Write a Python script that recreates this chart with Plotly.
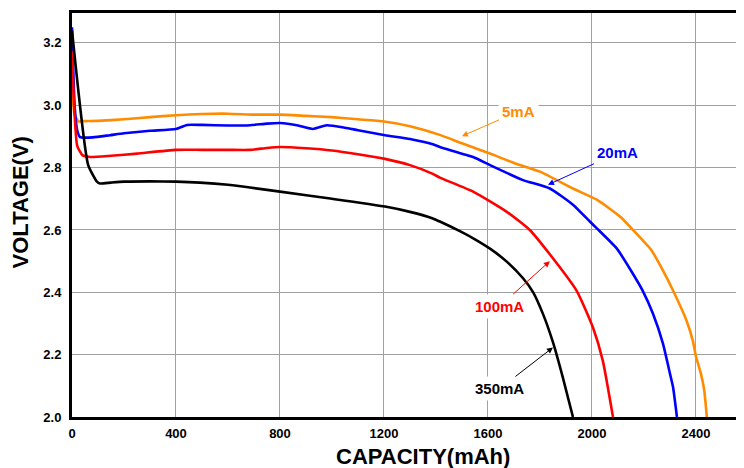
import plotly.graph_objects as go

# ---- data ----
cap_5mA = [0, 10, 25, 42, 100, 200, 300, 400, 500, 600, 700, 800, 900, 1000, 1100, 1200,
           1300, 1415, 1500, 1608, 1700, 1800, 1927, 2019, 2108, 2158, 2229, 2270, 2313,
           2364, 2388, 2400, 2419, 2432, 2442]
v_5mA = [3.06, 2.97, 2.948, 2.949, 2.950, 2.955, 2.962, 2.968, 2.972, 2.973, 2.970, 2.970,
         2.966, 2.962, 2.955, 2.948, 2.933, 2.905, 2.878, 2.845, 2.815, 2.787, 2.733, 2.697,
         2.643, 2.600, 2.535, 2.475, 2.404, 2.309, 2.245, 2.195, 2.140, 2.086, 2.0]

cap_20mA = [0, 10, 20, 31, 80, 146, 200, 300, 400, 442, 500, 600, 685, 750, 800, 870, 927,
            980, 1050, 1100, 1204, 1300, 1388, 1415, 1543, 1608, 1735, 1838, 1927, 1992,
            2019, 2096, 2150, 2196, 2235, 2273, 2300, 2312, 2327]
v_20mA = [3.25, 3.0, 2.92, 2.898, 2.897, 2.904, 2.910, 2.918, 2.924, 2.937, 2.937, 2.935,
          2.936, 2.941, 2.943, 2.935, 2.924, 2.936, 2.928, 2.920, 2.904, 2.892, 2.875, 2.866,
          2.834, 2.808, 2.760, 2.733, 2.681, 2.627, 2.605, 2.540, 2.470, 2.404, 2.331,
          2.236, 2.140, 2.096, 2.0]

cap_100mA = [0, 8, 20, 40, 69, 150, 250, 400, 500, 600, 685, 750, 800, 900, 1000, 1100,
             1204, 1300, 1388, 1415, 1543, 1671, 1761, 1838, 1942, 2004, 2042, 2081]
v_100mA = [3.175, 3.0, 2.87, 2.84, 2.834, 2.838, 2.845, 2.857, 2.857, 2.857, 2.857, 2.863,
           2.866, 2.862, 2.855, 2.843, 2.828, 2.808, 2.780, 2.768, 2.723, 2.659, 2.600,
           2.522, 2.404, 2.287, 2.18, 2.0]

cap_350mA = [0, 62, 96, 108, 150, 200, 300, 400, 492, 600, 685, 800, 1000, 1204, 1300,
             1388, 1415, 1492, 1550, 1608, 1670, 1735, 1774, 1812, 1850, 1888, 1927]
v_350mA = [3.24, 2.809, 2.755, 2.749, 2.752, 2.755, 2.756, 2.755, 2.752, 2.745, 2.736,
           2.723, 2.700, 2.675, 2.658, 2.637, 2.627, 2.596, 2.570, 2.540, 2.500, 2.445,
           2.400, 2.330, 2.240, 2.127, 2.0]

x_ticks = [0, 400, 800, 1200, 1600, 2000, 2400]
y_ticks = [2.0, 2.2, 2.4, 2.6, 2.8, 3.0, 3.2]

series = [
    ("5mA", cap_5mA, v_5mA, "#FF8C00"),
    ("20mA", cap_20mA, v_20mA, "#0000FF"),
    ("100mA", cap_100mA, v_100mA, "#FF0000"),
    ("350mA", cap_350mA, v_350mA, "#000000"),
]

# label: (arrow head x, arrow head y, text offset ax, ay in px)
labels = {
    "5mA": (1500, 2.901, 57, -25),
    "20mA": (1831, 2.745, 70, -32),
    "100mA": (1838, 2.50, -50, 45),
    "350mA": (1850, 2.223, -53, 41),
}

FONT = "Liberation Sans, Arial"

fig = go.Figure()
for name, xs, ys, col in series:
    fig.add_trace(go.Scatter(x=xs, y=ys, mode="lines", name=name,
                             line=dict(color=col, width=2.6, shape="spline", smoothing=0.5),
                             showlegend=False))

for name, xs, ys, col in series:
    hx, hy, ax, ay = labels[name]
    fig.add_annotation(x=hx, y=hy, xref="x", yref="y", text="<b>%s</b>" % name,
                       showarrow=True, ax=ax, ay=ay, axref="pixel", ayref="pixel",
                       arrowhead=2, arrowsize=1.2, arrowwidth=1, arrowcolor=col,
                       font=dict(family=FONT, size=15, color=col),
                       bgcolor="white", borderpad=3)

fig.add_annotation(text="<b>VOLTAGE(V)</b>", xref="paper", yref="paper",
                   x=-0.0774, y=0.531, xanchor="center", yanchor="middle",
                   textangle=-90, showarrow=False,
                   font=dict(family=FONT, size=22, color="black"))
fig.add_annotation(text="<b>CAPACITY(mAh)</b>", xref="paper", yref="paper",
                   x=0.522, y=-0.098, xanchor="center", yanchor="middle",
                   showarrow=False,
                   font=dict(family=FONT, size=22, color="black"))

fig.update_xaxes(range=[0, 2585], tickvals=x_ticks,
                 ticktext=["<b>%d</b>" % v for v in x_ticks],
                 showgrid=True, gridcolor="#A0A0A0", gridwidth=1,
                 showline=True, linecolor="black", linewidth=3, mirror=True,
                 ticks="outside", ticklen=2, tickcolor="rgba(0,0,0,0)",
                 zeroline=False,
                 tickfont=dict(family=FONT, size=13, color="black"))
fig.update_yaxes(range=[2.0, 3.296], tickvals=y_ticks,
                 ticktext=["<b>%.1f</b>" % v for v in y_ticks],
                 showgrid=True, gridcolor="#A0A0A0", gridwidth=1,
                 showline=True, linecolor="black", linewidth=3,
                 ticks="outside", ticklen=5, tickcolor="rgba(0,0,0,0)",
                 zeroline=False,
                 tickfont=dict(family=FONT, size=13, color="black"))

fig.update_layout(width=744, height=468, margin=dict(l=64, r=8, t=2, b=59),
                  plot_bgcolor="white", paper_bgcolor="white")

fig.write_html("out.html")
